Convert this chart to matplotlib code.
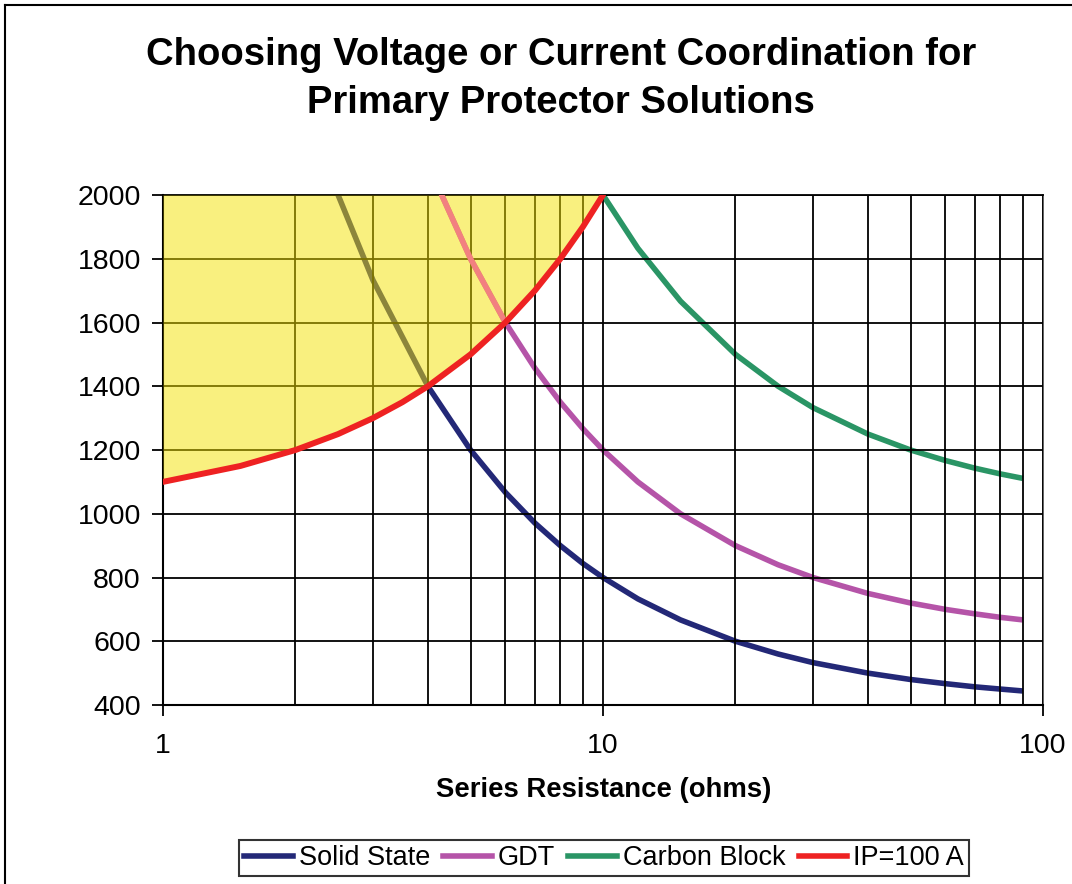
import matplotlib
matplotlib.use("Agg")
import matplotlib.pyplot as plt
from matplotlib.lines import Line2D
from matplotlib.ticker import FixedLocator, NullFormatter, FixedFormatter

plt.rcParams['font.family'] = ['Liberation Sans', 'DejaVu Sans']

# ---- data ----
ss_x = [2.5, 3, 4, 5, 6, 7, 8, 9, 10, 12, 15, 20, 25, 30, 40, 50, 60, 70, 80, 90]
ss_y = [2000, 1733, 1400, 1200, 1067, 971, 900, 844, 800, 733, 667, 600, 560, 533, 500, 480, 467, 457, 450, 444]

gdt_x = [4.3, 5, 6, 7, 8, 9, 10, 12, 15, 20, 25, 30, 40, 50, 60, 70, 80, 90]
gdt_y = [2000, 1800, 1600, 1457, 1350, 1267, 1200, 1100, 1000, 900, 840, 800, 750, 720, 700, 686, 675, 667]

cb_x = [10, 12, 15, 20, 25, 30, 40, 50, 60, 70, 80, 90]
cb_y = [2000, 1833, 1667, 1500, 1400, 1333, 1250, 1200, 1167, 1143, 1125, 1111]

ip_x = [1, 1.5, 2, 2.5, 3, 3.5, 4, 5, 6, 7, 8, 9, 10]
ip_y = [1100, 1150, 1200, 1250, 1300, 1350, 1400, 1500, 1600, 1700, 1800, 1900, 2000]

y_ticks = [400, 600, 800, 1000, 1200, 1400, 1600, 1800, 2000]
x_major = [1, 10, 100]
x_major_labels = ["1", "10", "100"]

title_lines = ["Choosing Voltage or Current Coordination for", "Primary Protector Solutions"]
x_label = "Series Resistance (ohms)"
series_names = ["Solid State", "GDT", "Carbon Block", "IP=100 A"]

# ---- styles ----
c_ss = "#232877"
c_gdt = "#b554a8"
c_cb = "#2a9565"
c_ip = "#ee2222"
c_gdt_in_yellow = "#f28080"
lw = 4.0

fig = plt.figure(figsize=(10.72, 8.84), dpi=100)
ax = fig.add_axes([163/1072, 1-705/884, (1043-163)/1072, (705-195)/884])

ax.set_xscale('log')
ax.set_xlim(1, 100)
ax.set_ylim(400, 2000)

ax.plot(ss_x, ss_y, color=c_ss, lw=lw, zorder=2, label=series_names[0], solid_capstyle='butt')
ax.plot(gdt_x, gdt_y, color=c_gdt, lw=lw, zorder=2, label=series_names[1], solid_capstyle='butt')
ax.plot(cb_x, cb_y, color=c_cb, lw=lw, zorder=2, label=series_names[2], solid_capstyle='butt')

# yellow region above the IP line
fill = ax.fill_between(ip_x, ip_y, 2000, color=(0.96, 0.89, 0.0), alpha=0.5, lw=0, zorder=3)
over = ax.plot(gdt_x, gdt_y, color=c_gdt_in_yellow, lw=lw, zorder=3.5)[0]
over.set_clip_path(fill.get_paths()[0], transform=ax.transData)

ax.plot(ip_x, ip_y, color=c_ip, lw=lw + 0.3, zorder=4, label=series_names[3], solid_capstyle='round')

# grid / ticks
ax.set_axisbelow(False)
ax.yaxis.set_major_locator(FixedLocator(y_ticks))
ax.xaxis.set_major_locator(FixedLocator(x_major))
ax.xaxis.set_major_formatter(FixedFormatter(x_major_labels))
ax.xaxis.set_minor_formatter(NullFormatter())
ax.grid(True, which='both', axis='x', color='black', lw=1.3)
ax.grid(True, which='major', axis='y', color='black', lw=1.3)
ax.tick_params(axis='x', which='major', direction='out', length=8, width=1.3, labelsize=20.5, pad=12)
ax.tick_params(axis='x', which='minor', length=0)
ax.tick_params(axis='y', which='major', direction='out', length=8, width=1.3, labelsize=20.5, pad=8)
for s in ['left', 'bottom']:
    ax.spines[s].set_linewidth(1.5)
ax.spines['top'].set_linewidth(1.3)
ax.spines['right'].set_linewidth(1.3)
ax.spines['right'].set_color('#555555')

# texts
fig.text(561/1072, 1-55/884, title_lines[0], ha='center', va='center', fontsize=27.5, fontweight='bold')
fig.text(561/1072, 1-103/884, title_lines[1], ha='center', va='center', fontsize=27.5, fontweight='bold')
fig.text(604/1072, 1-790/884, x_label, ha='center', va='center', fontsize=19.8, fontweight='bold')

handles = [Line2D([], [], color=c, lw=lw) for c in [c_ss, c_gdt, c_cb, c_ip]]
leg = fig.legend(handles, series_names, loc='center', bbox_to_anchor=(604/1072, 1-858/884),
                 ncol=4, frameon=True, fancybox=False, fontsize=19.5, handlelength=1.8,
                 handletextpad=0.2, columnspacing=0.5, borderpad=0.2, borderaxespad=0)
leg.get_frame().set_edgecolor('black')
leg.get_frame().set_linewidth(1.5)

# outer border (left and top)
fig.add_artist(Line2D([4.5/1072, 4.5/1072], [0, 1-5/884], color='black', lw=1.5, transform=fig.transFigure))
fig.add_artist(Line2D([4.5/1072, 1], [1-5/884, 1-5/884], color='black', lw=1.5, transform=fig.transFigure))

fig.savefig("out.png", dpi=100)
